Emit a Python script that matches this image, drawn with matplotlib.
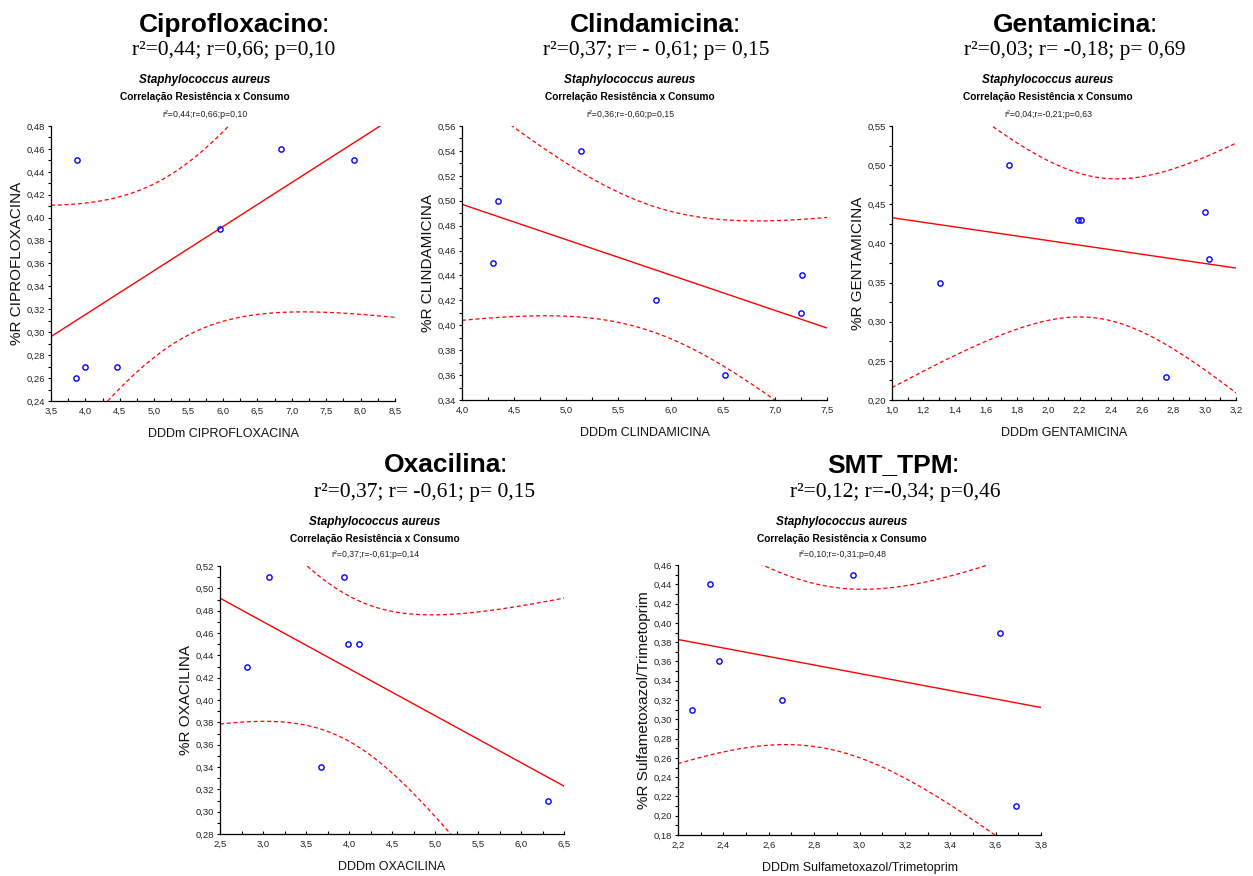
import numpy as np
import matplotlib
matplotlib.use("Agg")
import matplotlib.pyplot as plt
from matplotlib import font_manager
from matplotlib.ticker import MultipleLocator, FuncFormatter

# ---- data: DDDm (consumption) vs %R (resistance), Staphylococcus aureus ----
cipro_x = [3.88, 3.86, 4.00, 4.46, 5.95, 6.84, 7.91]
cipro_y = [0.45, 0.26, 0.27, 0.27, 0.39, 0.46, 0.45]

clinda_x = [4.35, 4.30, 5.14, 5.86, 6.52, 7.26, 7.25]
clinda_y = [0.50, 0.45, 0.54, 0.42, 0.36, 0.44, 0.41]

genta_x = [1.31, 1.75, 2.19, 2.21, 3.00, 3.03, 2.75]
genta_y = [0.35, 0.50, 0.43, 0.43, 0.44, 0.38, 0.23]

oxa_x = [3.07, 2.81, 3.94, 3.99, 4.12, 3.68, 6.31]
oxa_y = [0.51, 0.43, 0.51, 0.45, 0.45, 0.34, 0.31]

smt_x = [2.26, 2.34, 2.38, 2.66, 2.97, 3.62, 3.69]
smt_y = [0.31, 0.44, 0.36, 0.32, 0.45, 0.39, 0.21]

drug_names = ["Ciprofloxacino", "Clindamicina", "Gentamicina", "Oxacilina", "SMT_TPM"]
summary_lines = [
    "r\u00b2=0,44; r=0,66; p=0,10",
    "r\u00b2=0,37; r= - 0,61; p= 0,15",
    "r\u00b2=0,03; r= -0,18; p= 0,69",
    "r\u00b2=0,37; r= -0,61; p= 0,15",
    "r\u00b2=0,12; r=-0,34; p=0,46",
]
fit_lines = [
    "r\u00b2=0,44;r=0,66;p=0,10",
    "r\u00b2=0,36;r=-0,60;p=0,15",
    "r\u00b2=0,04;r=-0,21;p=0,63",
    "r\u00b2=0,37;r=-0,61;p=0,14",
    "r\u00b2=0,10;r=-0,31;p=0,48",
]
x_labels = ["DDDm CIPROFLOXACINA", "DDDm CLINDAMICINA", "DDDm GENTAMICINA",
            "DDDm OXACILINA", "DDDm Sulfametoxazol/Trimetoprim"]
y_labels = ["%R CIPROFLOXACINA", "%R CLINDAMICINA", "%R GENTAMICINA",
            "%R OXACILINA", "%R Sulfametoxazol/Trimetoprim"]
organism = "Staphylococcus aureus"
subtitle = "Correla\u00e7\u00e3o Resist\u00eancia x Consumo"

# ---- fonts ----
installed = {f.name for f in font_manager.fontManager.ttflist}
HAS_NARROW = "Liberation Sans Narrow" in installed
if HAS_NARROW:
    NARROW = ["Liberation Sans Narrow", "Liberation Sans", "DejaVu Sans"]
    fs_tick, fs_xlab, fs_org, fs_sub, fs_fit = 7.3, 10.4, 10.0, 8.7, 7.5
else:
    NARROW = ["Liberation Sans", "DejaVu Sans"]
    fs_tick, fs_xlab, fs_org, fs_sub, fs_fit = 6.8, 9.0, 8.5, 7.3, 6.3
SANS = ["Liberation Sans", "DejaVu Sans"]
SERIF = ["Liberation Serif", "DejaVu Serif"]

W, H = 1253, 876
fig = plt.figure(figsize=(W / 100, H / 100), dpi=100)
fig.patch.set_facecolor("white")

# student t critical values (two-sided 95%) by degrees of freedom
T_CRIT = {3: 3.1824, 4: 2.7764, 5: 2.5706, 6: 2.4469, 7: 2.3646, 8: 2.3060}

# panel layout in pixels: (left, top, right, bottom)
boxes = [
    (51, 126, 395, 401),
    (462, 126, 827, 400),
    (892, 126, 1236, 400),
    (220, 566, 564, 834),
    (678, 565, 1041, 835),
]
limits = [
    ((3.5, 8.5), (0.24, 0.48), 0.5, 0.02, 0.01),
    ((4.0, 7.5), (0.34, 0.56), 0.5, 0.02, 0.01),
    ((1.0, 3.2), (0.20, 0.55), 0.2, 0.05, 0.025),
    ((2.5, 6.5), (0.28, 0.52), 0.5, 0.02, 0.01),
    ((2.2, 3.8), (0.18, 0.46), 0.2, 0.02, 0.01),
]
# header anchors in pixels: (title_x, summary_x, block_x, row baselines)
headers = [
    (234, 234, 205, (32, 55, 83, 100, 117)),
    (655, 656, 630, (32, 55, 83, 100, 117)),
    (1075, 1075, 1048, (32, 55, 83, 100, 117)),
    (446, 425, 375, (472, 497, 525, 542, 557)),
    (893, 895, 842, (472, 497, 525, 542, 557)),
]
series = [(cipro_x, cipro_y), (clinda_x, clinda_y), (genta_x, genta_y),
          (oxa_x, oxa_y), (smt_x, smt_y)]


def comma(dec):
    return FuncFormatter(lambda v, p: f"{v:.{dec}f}".replace(".", ","))


def fy(py):
    return 1 - py / H


for i in range(5):
    l, t, r, b = boxes[i]
    ax = fig.add_axes([l / W, 1 - b / H, (r - l) / W, (b - t) / H])
    (x0, x1), (y0, y1), xmaj, ymaj, ymin = limits[i]
    xs_data = np.asarray(series[i][0], float)
    ys_data = np.asarray(series[i][1], float)

    # least squares line with 95% confidence band for the mean
    n = len(xs_data)
    slope, icpt = np.polyfit(xs_data, ys_data, 1)
    resid = ys_data - (icpt + slope * xs_data)
    s = np.sqrt(np.sum(resid ** 2) / (n - 2))
    xm = xs_data.mean()
    sxx = np.sum((xs_data - xm) ** 2)
    grid = np.linspace(x0, x1, 300)
    fit = icpt + slope * grid
    half = T_CRIT[n - 2] * s * np.sqrt(1 / n + (grid - xm) ** 2 / sxx)

    ax.plot(grid, fit, color="#ff0000", lw=1.0)
    ax.plot(grid, fit + half, color="#ff0000", lw=0.9, dashes=(3.2, 2.2))
    ax.plot(grid, fit - half, color="#ff0000", lw=0.9, dashes=(3.2, 2.2))
    ax.plot(xs_data, ys_data, "o", mfc="none", mec="#0000ff", ms=3.8, mew=1.0)

    ax.set_xlim(x0, x1)
    ax.set_ylim(y0, y1)
    ax.xaxis.set_major_locator(MultipleLocator(xmaj))
    ax.xaxis.set_minor_locator(MultipleLocator(xmaj / 2))
    ax.yaxis.set_major_locator(MultipleLocator(ymaj))
    ax.yaxis.set_minor_locator(MultipleLocator(ymin))
    ax.xaxis.set_major_formatter(comma(1))
    ax.yaxis.set_major_formatter(comma(2))
    for sp in ("top", "right"):
        ax.spines[sp].set_visible(False)
    for sp in ("left", "bottom"):
        ax.spines[sp].set_linewidth(0.9)
    ax.tick_params(axis="y", which="both", direction="out", length=2.5,
                   width=0.8, pad=1.5)
    ax.tick_params(axis="x", which="both", direction="in", length=2.5,
                   width=0.8, pad=4.5)
    for lab in ax.get_xticklabels() + ax.get_yticklabels():
        lab.set_fontfamily(NARROW)
        lab.set_fontsize(fs_tick)
        lab.set_color("#222222")

    wpx, hpx = r - l, b - t
    ax.set_xlabel(x_labels[i], family=NARROW, fontsize=fs_xlab, color="#111111")
    ax.xaxis.label.set(va="center", ha="center")
    ax.xaxis.set_label_coords(0.5, -33 / hpx)
    ax.set_ylabel(y_labels[i], family=SANS, fontsize=11, color="#111111")
    ax.yaxis.label.set(va="center", ha="center", rotation_mode="default")
    ax.yaxis.set_label_coords(-34 / wpx, 0.5)

    # headers: bold drug name followed by a regular-weight colon
    tx, sx, bx, rows = headers[i]
    name = fig.text(tx / W - 3 / W, fy(rows[0]), drug_names[i], family=SANS,
                    weight="bold", fontsize=19, ha="center", va="baseline")
    ax.annotate(":", xy=(1, 0), xycoords=name, xytext=(-1.2, 0),
                textcoords="offset points", family=SANS, fontsize=19,
                va="bottom", ha="left", annotation_clip=False)
    fig.text(sx / W, fy(rows[1]), summary_lines[i], family=SERIF,
             fontsize=15.5, ha="center", va="baseline")
    fig.text(bx / W, fy(rows[2]), organism, family=NARROW, weight="bold",
             style="italic", fontsize=fs_org, ha="center", va="baseline")
    fig.text(bx / W, fy(rows[3]), subtitle, family=NARROW, weight="bold",
             fontsize=fs_sub, ha="center", va="baseline")
    fig.text(bx / W, fy(rows[4]), fit_lines[i], family=NARROW,
             fontsize=fs_fit, ha="center", va="baseline", color="#222222")

fig.savefig("out.png", dpi=100, facecolor="white")
